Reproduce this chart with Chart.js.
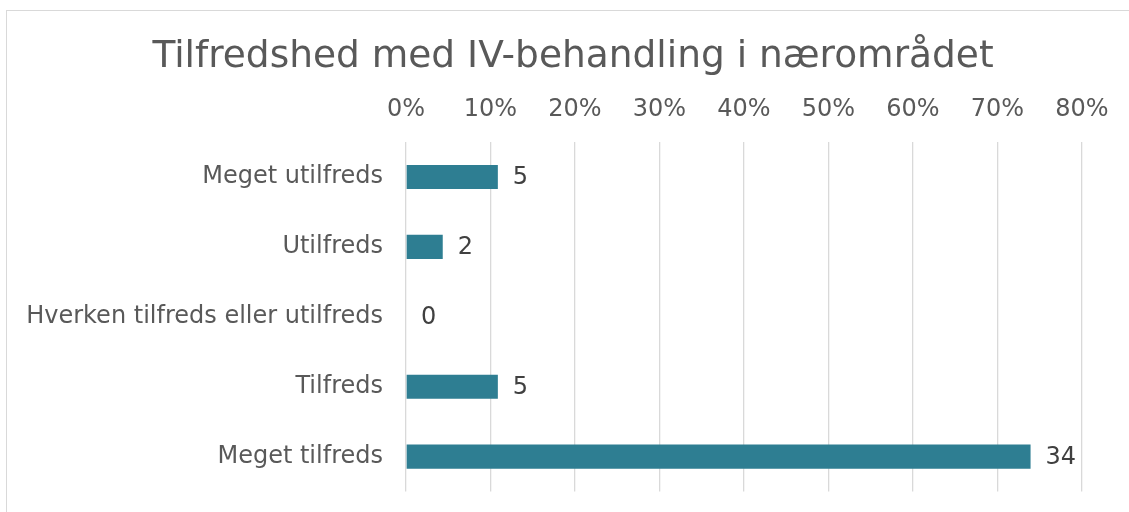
<!DOCTYPE html>
<html>
<head>
<meta charset="utf-8">
<script src="https://cdn.jsdelivr.net/npm/chart.js@4.4.0/dist/chart.umd.min.js"></script>
<style>
body{margin:0;background:#fff;overflow:hidden;}
#frame{position:absolute;left:6px;top:10px;width:1140px;height:520px;border:1px solid #d9d9d9;}
#wrap{position:absolute;left:0;top:0;width:1129px;height:521px;}
</style>
</head>
<body>
<div id="frame"></div>
<div id="wrap"><canvas id="barChart"></canvas></div>
<script>
// svar
var labels = ["Meget utilfreds", "Utilfreds", "Hverken tilfreds eller utilfreds", "Tilfreds", "Meget tilfreds"];
var counts = [5, 2, 0, 5, 34];
var tickPct = [0, 10, 20, 30, 40, 50, 60, 70, 80];

var total = 0;
for (var i = 0; i < counts.length; i++) { total += counts[i]; }
var pct = counts.map(function(c){ return c / total * 100; });

// antal ved siden af bjælken
var countLabels = {
	id: 'countLabels',
	afterLayout: function(chart){
		// titel centreret over rammen
		if (chart.titleBlock) { chart.titleBlock.left = 64; chart.titleBlock.right = 1082; }
	},
	afterDatasetsDraw: function(chart){
		var ctx = chart.ctx;
		var meta = chart.getDatasetMeta(0);
		ctx.save();
		ctx.font = '24px "DejaVu Sans"';
		ctx.fillStyle = '#404040';
		ctx.textAlign = 'left';
		ctx.textBaseline = 'middle';
		meta.data.forEach(function(bar, i){
			ctx.fillText(counts[i], bar.x + 15, bar.y + 1);
		});
		ctx.restore();
	}
};

var ctx = document.getElementById("barChart").getContext('2d');
var myChart = new Chart(ctx, {
	type: 'bar',
	data: {
		labels: labels,
		datasets: [{
			data: pct,
			backgroundColor: '#2e7e92',
			barPercentage: 0.344,
			categoryPercentage: 1
		}]
	},
	options: {
		indexAxis: 'y',
		responsive: true,
		maintainAspectRatio: false,
		animation: false,
		layout: { padding: { left: 0, right: 47, top: 0, bottom: 8 } },
		plugins: {
			legend: { display: false },
			tooltip: { enabled: false },
			title: {
				display: true,
				text: 'Tilfredshed med IV-behandling i nærområdet',
				color: '#595959',
				font: { family: '"DejaVu Sans"', size: 37.5, weight: 'normal' },
				padding: { top: 35, bottom: 4 }
			}
		},
		scales: {
			x: {
				position: 'top',
				min: 0,
				max: 80,
				afterBuildTicks: function(axis){
					axis.ticks = tickPct.map(function(v){ return { value: v }; });
				},
				afterFit: function(axis){ axis.height = 58; },
				ticks: {
					color: '#595959',
					font: { family: '"DejaVu Sans"', size: 24 },
					padding: 18,
					callback: function(v){ return v + '%'; }
				},
				grid: { color: '#d9d9d9', lineWidth: 1.3, drawTicks: false },
				border: { display: false }
			},
			y: {
				afterFit: function(axis){ axis.width = 406; },
				ticks: {
					color: '#595959',
					font: { family: '"DejaVu Sans"', size: 24 },
					padding: 15
				},
				grid: { display: false },
				border: { display: false }
			}
		}
	},
	plugins: [countLabels]
});
</script>
</body>
</html>
